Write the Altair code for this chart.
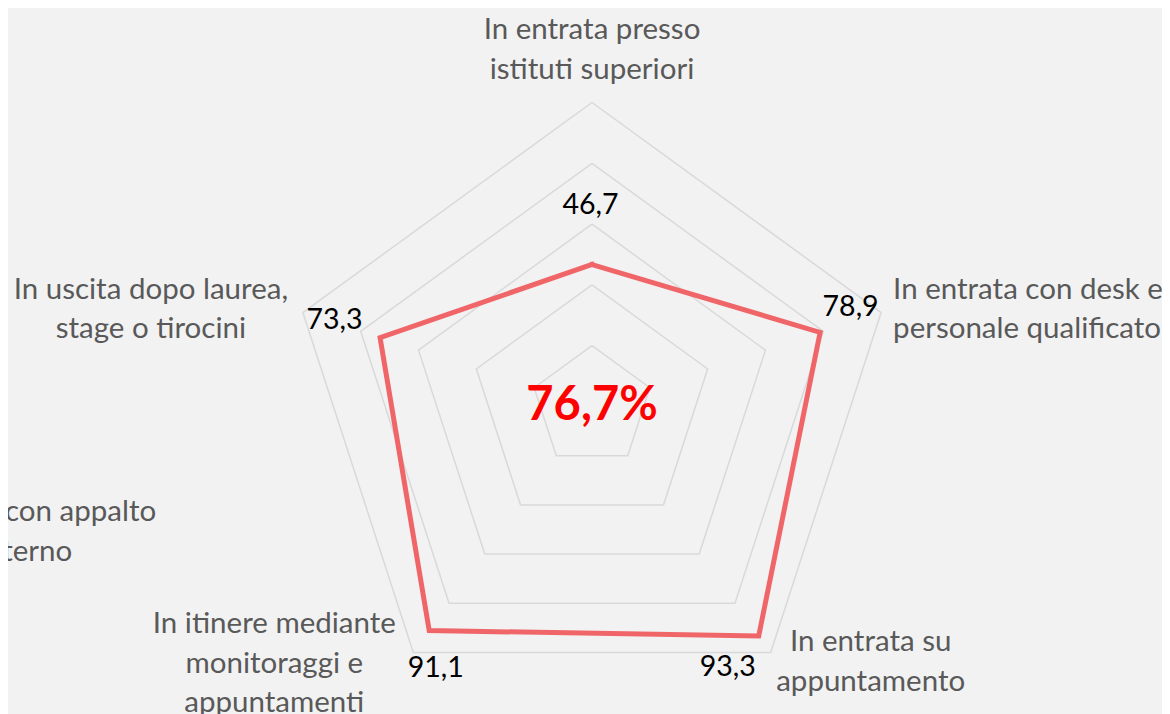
import altair as alt
import pandas as pd

# ---- data ----
categories = [
    "In entrata presso\nistituti superiori",
    "In entrata con desk e\npersonale qualificato",
    "In entrata su\nappuntamento",
    "In itinere mediante\nmonitoraggi e\nappuntamenti",
    "In uscita dopo laurea,\nstage o tirocini",
]
values = [46.7, 78.9, 93.3, 91.1, 73.3]
value_labels = ["46,7", "78,9", "93,3", "91,1", "73,3"]
total_label = ["76,7%"]
grid_levels = [20, 40, 60, 80, 100]
side_note = ["In uscita con appalto\nesterno"]

N = len(categories)

# ---- tables built from the arrays ----
pts = pd.DataFrame({
    "k": list(range(N)) + [N],
    "cat": categories + [categories[0]],
    "value": values + [values[0]],
    "vlabel": value_labels + [value_labels[0]],
})
rings = pd.DataFrame(
    [{"level": lv, "k": k} for lv in grid_levels for k in range(N + 1)]
)
cats = pd.DataFrame({"k": list(range(N)), "cat": categories, "r": [max(grid_levels)] * N})
center = pd.DataFrame({"text": total_label, "r": [0]})

# ---- layout ----
W, H = 1154, 706
K = 3.04          # pixels per unit of value
CX, CY = 584, 398.5
xs = alt.Scale(domain=[-CX / K, (W - CX) / K], nice=False, zero=False)
ys = alt.Scale(domain=[-(H - CY) / K, CY / K], nice=False, zero=False)

FONT = "Lato"
GREY = "#595959"
LINE = "#F06668"
GRID = "#D9D9D9"
LFS = 29.5
LH = 39.5

ang = f"datum.k * 2 * PI / {N}"


def polar(chart, rfield):
    return chart.transform_calculate(
        x=f"datum.{rfield} * sin({ang})",
        y=f"datum.{rfield} * cos({ang})",
    )


XE = alt.X("x:Q", scale=xs, axis=None)
YE = alt.Y("y:Q", scale=ys, axis=None)

grid = polar(alt.Chart(rings), "level").mark_line(
    color=GRID, strokeWidth=1.5, strokeJoin="miter"
).encode(x=XE, y=YE, detail="level:N", order="k:Q")

poly = polar(alt.Chart(pts), "value").mark_line(
    color=LINE, strokeWidth=5, strokeJoin="miter", strokeCap="square"
).encode(x=XE, y=YE, order="k:Q")

# value labels: offsets (px) from their data points
val_off = [(-1.5, -59.5), (30.5, -25.5), (-31, 31.5), (6.5, 37), (-45.5, -17.5)]
val_layers = []
for i, (dx, dy) in enumerate(val_off):
    val_layers.append(
        polar(alt.Chart(pts), "value")
        .transform_filter(f"datum.k == {i}")
        .mark_text(dx=dx, dy=dy, align="center", baseline="middle",
                   font=FONT, fontSize=28.5, color="#000000")
        .encode(x=XE, y=YE, text="vlabel:N")
    )

# category labels: offsets (px) of the first line from the outer grid vertex
cat_off = [
    (0, -72.5, "center"),
    (12, -22.6, "left"),
    (100, -10.4, "center"),
    (-139, -28.4, "center"),
    (-152, -22.6, "center"),
]
cat_layers = []
for i, (dx, dy, al) in enumerate(cat_off):
    cat_layers.append(
        polar(alt.Chart(cats), "r")
        .transform_filter(f"datum.k == {i}")
        .mark_text(dx=dx, dy=dy, align=al, baseline="middle", lineBreak="\n",
                   lineHeight=LH, font=FONT, fontSize=LFS, color=GREY)
        .encode(x=XE, y=YE, text="cat:N")
    )

center_txt = alt.Chart(center).transform_calculate(
    x="datum.r", y="datum.r"
).mark_text(align="center", baseline="middle", font=FONT, fontSize=47,
            fontWeight="bold", color="#FF0000", dy=-1).encode(x=XE, y=YE, text="text:N")

note = alt.Chart(pd.DataFrame({"t": side_note})).mark_text(
    align="center", baseline="middle", lineBreak="\n", lineHeight=LH,
    font=FONT, fontSize=LFS, color=GREY
).encode(x=alt.value(15), y=alt.value(504), text="t:N")

chart = alt.layer(grid, poly, *val_layers, *cat_layers, center_txt, note).properties(
    width=W, height=H,
    autosize=alt.AutoSizeParams(type="none"),
    padding=0,
    background="#F2F2F2",
).configure_view(stroke=None)

chart.save("out.html", embed_options={"renderer": "svg", "actions": False})
